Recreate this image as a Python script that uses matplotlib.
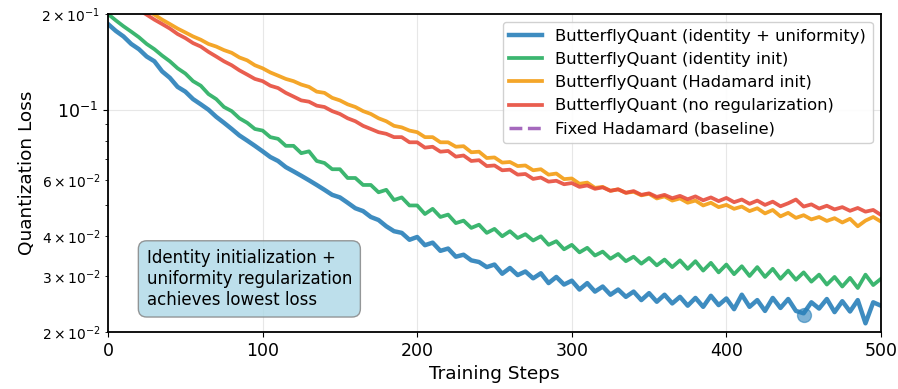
import numpy as np
import matplotlib
matplotlib.use("Agg")
import matplotlib.pyplot as plt

# training steps, sampled every 5 steps
steps = np.arange(0, 501, 5)

loss_id_unif = [
    0.186, 0.177, 0.170, 0.161, 0.155, 0.147, 0.142, 0.132, 0.126, 0.118,
    0.114, 0.108, 0.104, 0.100, 0.095, 0.091, 0.087, 0.083, 0.080, 0.077,
    0.074, 0.071, 0.069, 0.066, 0.064, 0.062, 0.060, 0.058, 0.056, 0.054,
    0.053, 0.051, 0.049, 0.048, 0.046, 0.045, 0.043, 0.0415, 0.0410, 0.0390,
    0.0398, 0.0375, 0.0382, 0.0360, 0.0366, 0.0345, 0.0350, 0.0336, 0.0332, 0.0320,
    0.0326, 0.0305, 0.0318, 0.0302, 0.0310, 0.0295, 0.0306, 0.0285, 0.0298, 0.0282,
    0.0290, 0.0272, 0.0285, 0.0268, 0.0278, 0.0262, 0.0272, 0.0258, 0.0268, 0.0252,
    0.0265, 0.0249, 0.0262, 0.0246, 0.0258, 0.0242, 0.0256, 0.0240, 0.0260, 0.0243,
    0.0255, 0.0236, 0.0262, 0.0240, 0.0252, 0.0233, 0.0256, 0.0238, 0.0254, 0.0233,
    0.0229, 0.0248, 0.0237, 0.0254, 0.0231, 0.0250, 0.0232, 0.0252, 0.0213, 0.0248,
    0.0242,
]

loss_id_init = [
    0.200, 0.191, 0.183, 0.176, 0.169, 0.161, 0.155, 0.148, 0.142, 0.135,
    0.130, 0.123, 0.119, 0.112, 0.108, 0.102, 0.099, 0.094, 0.091, 0.087,
    0.086, 0.082, 0.081, 0.077, 0.077, 0.073, 0.074, 0.069, 0.068, 0.065,
    0.065, 0.061, 0.061, 0.058, 0.058, 0.055, 0.056, 0.052, 0.053, 0.050,
    0.050, 0.047, 0.0488, 0.0460, 0.0468, 0.0440, 0.0448, 0.0425, 0.0435, 0.0410,
    0.0422, 0.0400, 0.0415, 0.0395, 0.0406, 0.0388, 0.0400, 0.0376, 0.0386, 0.0364,
    0.0376, 0.0356, 0.0368, 0.0348, 0.0358, 0.0340, 0.0352, 0.0334, 0.0345, 0.0328,
    0.0342, 0.0324, 0.0338, 0.0320, 0.0336, 0.0316, 0.0334, 0.0312, 0.0330, 0.0308,
    0.0326, 0.0304, 0.0322, 0.0300, 0.0320, 0.0298, 0.0316, 0.0294, 0.0312, 0.0292,
    0.0308, 0.0288, 0.0303, 0.0282, 0.0298, 0.0278, 0.0296, 0.0275, 0.0303, 0.0281,
    0.0294,
]

loss_hadamard_init = [
    0.245, 0.237, 0.229, 0.221, 0.213, 0.206, 0.199, 0.192, 0.186, 0.180,
    0.175, 0.170, 0.166, 0.161, 0.158, 0.154, 0.151, 0.146, 0.143, 0.138,
    0.135, 0.131, 0.128, 0.125, 0.123, 0.120, 0.118, 0.114, 0.113, 0.109,
    0.107, 0.104, 0.102, 0.099, 0.097, 0.094, 0.092, 0.089, 0.088, 0.086,
    0.085, 0.082, 0.082, 0.079, 0.079, 0.0765, 0.0768, 0.0735, 0.0738, 0.0705,
    0.0708, 0.0682, 0.0685, 0.0665, 0.0668, 0.0645, 0.0650, 0.0625, 0.0630, 0.0605,
    0.0608, 0.0585, 0.0590, 0.0568, 0.0572, 0.0556, 0.0562, 0.0548, 0.0552, 0.0538,
    0.0544, 0.0526, 0.0534, 0.0518, 0.0526, 0.0510, 0.0518, 0.0500, 0.0510, 0.0494,
    0.0502, 0.0488, 0.0496, 0.0480, 0.0490, 0.0472, 0.0484, 0.0462, 0.0474, 0.0457,
    0.0466, 0.0452, 0.0460, 0.0447, 0.0456, 0.0442, 0.0454, 0.0430, 0.0448, 0.0460,
    0.0445,
]

loss_no_reg = [
    0.235, 0.227, 0.220, 0.212, 0.206, 0.199, 0.192, 0.186, 0.180, 0.173,
    0.168, 0.162, 0.158, 0.152, 0.147, 0.142, 0.138, 0.133, 0.129, 0.125,
    0.123, 0.119, 0.117, 0.113, 0.110, 0.107, 0.106, 0.103, 0.102, 0.099,
    0.097, 0.094, 0.092, 0.089, 0.087, 0.085, 0.084, 0.082, 0.082, 0.079,
    0.079, 0.0760, 0.0765, 0.0738, 0.0742, 0.0712, 0.0718, 0.0690, 0.0694, 0.0665,
    0.0668, 0.0645, 0.0648, 0.0625, 0.0628, 0.0606, 0.0612, 0.0594, 0.0598, 0.0583,
    0.0588, 0.0572, 0.0578, 0.0564, 0.0570, 0.0556, 0.0562, 0.0548, 0.0555, 0.0540,
    0.0546, 0.0532, 0.0540, 0.0527, 0.0536, 0.0523, 0.0534, 0.0519, 0.0530, 0.0516,
    0.0528, 0.0512, 0.0522, 0.0506, 0.0518, 0.0502, 0.0514, 0.0497, 0.0508, 0.0522,
    0.0496, 0.0504, 0.0489, 0.0499, 0.0486, 0.0494, 0.0481, 0.0491, 0.0478, 0.0484,
    0.0467,
]

# fixed Hadamard sits above the visible range
baseline_loss = 0.25

best_step = 450
best_loss = 0.0226

fig = plt.figure(figsize=(8.98, 3.89), dpi=100)
ax = fig.add_axes([0.1203, 0.1465, 0.8607, 0.8175])

ax.plot(steps, loss_id_unif, color='#2980b9', lw=3.2, alpha=0.9,
        label='ButterflyQuant (identity + uniformity)')
ax.plot(steps, loss_id_init, color='#27ae60', lw=2.7, alpha=0.9,
        label='ButterflyQuant (identity init)')
ax.plot(steps, loss_hadamard_init, color='#f39c12', lw=2.7, alpha=0.9,
        label='ButterflyQuant (Hadamard init)')
ax.plot(steps, loss_no_reg, color='#e74c3c', lw=2.7, alpha=0.9,
        label='ButterflyQuant (no regularization)')
ax.axhline(baseline_loss, color='#9b59b6', lw=2.5, ls='--', alpha=0.9,
           label='Fixed Hadamard (baseline)')
ax.plot([best_step], [best_loss], 'o', color='#2980b9', ms=10, alpha=0.6)

ax.set_yscale('log')
ax.set_xlim(0, 500)
ax.set_ylim(0.02, 0.2)
ax.set_xlabel('Training Steps', fontsize=13.3)
ax.set_ylabel('Quantization Loss', fontsize=13.3)
ax.tick_params(labelsize=12.5)
ax.grid(True, alpha=0.3)
for s in ax.spines.values():
    s.set_linewidth(1.3)

ax.legend(loc='upper right', fontsize=11.8, framealpha=0.9)

ax.text(0.05, 0.167, 'Identity initialization +\nuniformity regularization\nachieves lowest loss',
        transform=ax.transAxes, fontsize=12, va='center',
        bbox=dict(boxstyle='round,pad=0.5', facecolor='lightblue', alpha=0.8, edgecolor='gray'))

fig.savefig('out.png', dpi=100)
